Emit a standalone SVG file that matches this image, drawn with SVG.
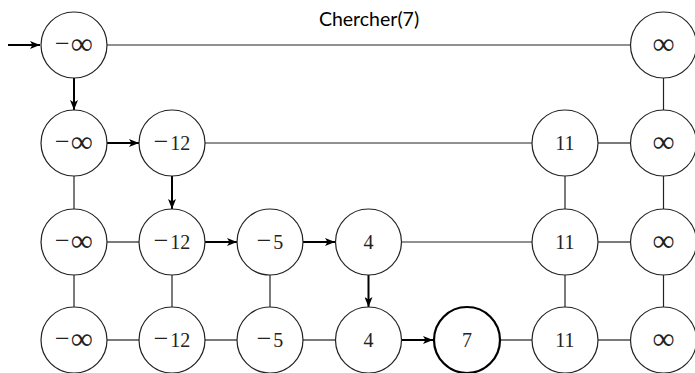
<svg xmlns="http://www.w3.org/2000/svg" width="695" height="373" viewBox="0 0 695 373">
  <defs>
    <marker id="ahb" viewBox="0 0 10 8" refX="10" refY="4" markerWidth="10" markerHeight="8" markerUnits="userSpaceOnUse" orient="auto">
      <path d="M0,0 L10,4 L0,8 L2.5,4 Z" fill="#000"/>
    </marker>
  </defs>
  <style>
    .node circle { fill: #fff; stroke: #222; stroke-width: 1.2; }
    .node.target circle { stroke: #000; stroke-width: 2.2; }
    .node text { font-family: "Liberation Serif", "DejaVu Serif", serif; font-size: 20px; fill: #222; text-anchor: middle; }
    .node .m { font-size: 26px; }
    .node .inf { font-size: 31px; }
    .link { stroke: #222; stroke-width: 1.2; fill: none; }
    .path { stroke: #000; stroke-width: 2; fill: none; marker-end: url(#ahb); }
    .title { font-family: "Lato", "DejaVu Sans", sans-serif; font-size: 19.5px; fill: #000; text-anchor: middle; }
  </style>

  <text class="title" x="369" y="26">Chercher(7)</text>

  <g id="connectors">
    <!-- plain links -->
    <line class="link" x1="107" y1="45" x2="630" y2="45"/>
    <line class="link" x1="663.5" y1="78" x2="663.5" y2="110"/>
    <line class="link" x1="205" y1="143" x2="532" y2="143"/>
    <line class="link" x1="598" y1="143" x2="630" y2="143"/>
    <line class="link" x1="74" y1="176" x2="74" y2="209"/>
    <line class="link" x1="74" y1="275" x2="74" y2="307"/>
    <line class="link" x1="172" y1="275" x2="172" y2="307"/>
    <line class="link" x1="270" y1="275" x2="270" y2="307"/>
    <line class="link" x1="565" y1="176" x2="565" y2="209"/>
    <line class="link" x1="565" y1="275" x2="565" y2="307"/>
    <line class="link" x1="663.5" y1="176" x2="663.5" y2="209"/>
    <line class="link" x1="663.5" y1="275" x2="663.5" y2="307"/>
    <line class="link" x1="107" y1="242" x2="139" y2="242"/>
    <line class="link" x1="401" y1="242" x2="532" y2="242"/>
    <line class="link" x1="598" y1="242" x2="630" y2="242"/>
    <line class="link" x1="107" y1="340" x2="139" y2="340"/>
    <line class="link" x1="205" y1="340" x2="237" y2="340"/>
    <line class="link" x1="303" y1="340" x2="335" y2="340"/>
    <line class="link" x1="500" y1="340" x2="532" y2="340"/>
    <line class="link" x1="598" y1="340" x2="630" y2="340"/>
    <!-- search path -->
    <line class="path" x1="8" y1="45" x2="40" y2="45"/>
    <line class="path" x1="74" y1="78" x2="74" y2="110"/>
    <line class="path" x1="107" y1="143" x2="139" y2="143"/>
    <line class="path" x1="172" y1="176" x2="172" y2="209"/>
    <line class="path" x1="205" y1="242" x2="237" y2="242"/>
    <line class="path" x1="303" y1="242" x2="335" y2="242"/>
    <line class="path" x1="368.5" y1="275" x2="368.5" y2="307"/>
    <line class="path" x1="401" y1="340" x2="433" y2="340"/>
  </g>

  <!-- level 3 -->
  <g id="n3_0" class="node"><circle cx="74" cy="45" r="33"/><text x="74" y="51.7"><tspan class="m">−</tspan><tspan class="inf" dx="1" dy="2">∞</tspan></text></g>
  <g id="n3_6" class="node"><circle cx="663.5" cy="45" r="33"/><text x="663.5" y="53.7"><tspan class="inf">∞</tspan></text></g>

  <!-- level 2 -->
  <g id="n2_0" class="node"><circle cx="74" cy="143" r="33"/><text x="74" y="149.7"><tspan class="m">−</tspan><tspan class="inf" dx="1" dy="2">∞</tspan></text></g>
  <g id="n2_1" class="node"><circle cx="172" cy="143" r="33"/><text x="172" y="149.7"><tspan class="m">−</tspan><tspan dx="2">12</tspan></text></g>
  <g id="n2_5" class="node"><circle cx="565" cy="143" r="33"/><text x="565" y="149.7">11</text></g>
  <g id="n2_6" class="node"><circle cx="663.5" cy="143" r="33"/><text x="663.5" y="151.7"><tspan class="inf">∞</tspan></text></g>

  <!-- level 1 -->
  <g id="n1_0" class="node"><circle cx="74" cy="242" r="33"/><text x="74" y="248.7"><tspan class="m">−</tspan><tspan class="inf" dx="1" dy="2">∞</tspan></text></g>
  <g id="n1_1" class="node"><circle cx="172" cy="242" r="33"/><text x="172" y="248.7"><tspan class="m">−</tspan><tspan dx="2">12</tspan></text></g>
  <g id="n1_2" class="node"><circle cx="270" cy="242" r="33"/><text x="270" y="248.7"><tspan class="m">−</tspan><tspan dx="2">5</tspan></text></g>
  <g id="n1_3" class="node"><circle cx="368.5" cy="242" r="33"/><text x="368.5" y="248.7">4</text></g>
  <g id="n1_5" class="node"><circle cx="565" cy="242" r="33"/><text x="565" y="248.7">11</text></g>
  <g id="n1_6" class="node"><circle cx="663.5" cy="242" r="33"/><text x="663.5" y="250.7"><tspan class="inf">∞</tspan></text></g>

  <!-- level 0 -->
  <g id="n0_0" class="node"><circle cx="74" cy="340" r="33"/><text x="74" y="346.7"><tspan class="m">−</tspan><tspan class="inf" dx="1" dy="2">∞</tspan></text></g>
  <g id="n0_1" class="node"><circle cx="172" cy="340" r="33"/><text x="172" y="346.7"><tspan class="m">−</tspan><tspan dx="2">12</tspan></text></g>
  <g id="n0_2" class="node"><circle cx="270" cy="340" r="33"/><text x="270" y="346.7"><tspan class="m">−</tspan><tspan dx="2">5</tspan></text></g>
  <g id="n0_3" class="node"><circle cx="368.5" cy="340" r="33"/><text x="368.5" y="346.7">4</text></g>
  <g id="n0_4" class="node target"><circle cx="467" cy="340" r="33"/><text x="467" y="346.7">7</text></g>
  <g id="n0_5" class="node"><circle cx="565" cy="340" r="33"/><text x="565" y="346.7">11</text></g>
  <g id="n0_6" class="node"><circle cx="663.5" cy="340" r="33"/><text x="663.5" y="348.7"><tspan class="inf">∞</tspan></text></g>
</svg>
